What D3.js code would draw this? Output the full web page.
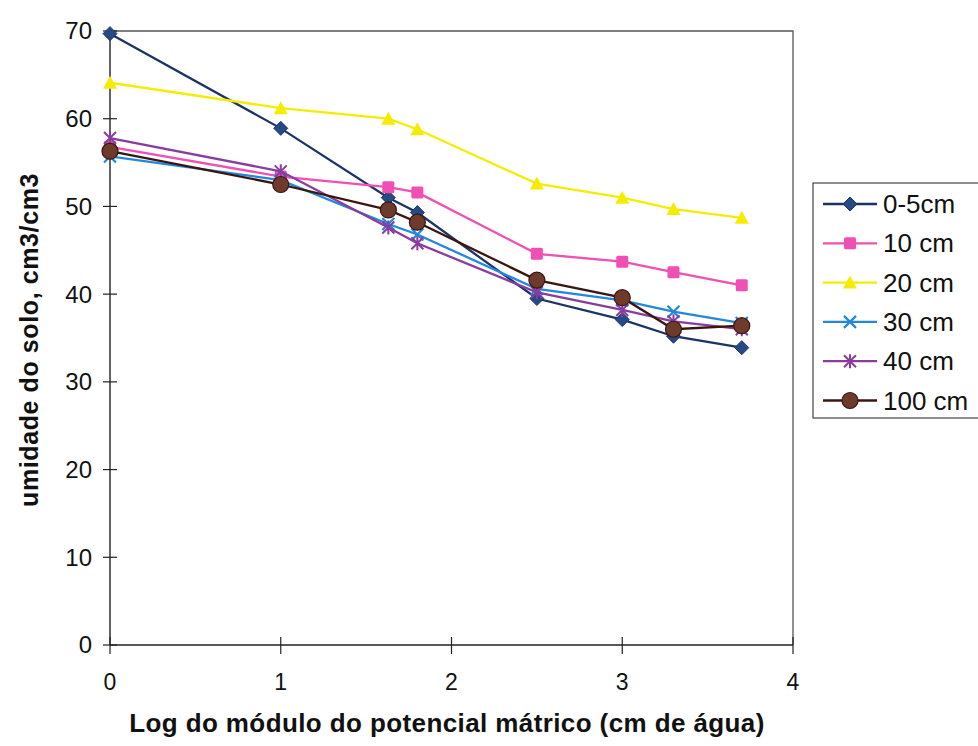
<!DOCTYPE html>
<html>
<head>
<meta charset="utf-8">
<script src="https://cdn.jsdelivr.net/npm/d3@7"></script>
<style>
  body { margin: 0; background: #fff; }
  text { font-family: Arial, "Liberation Sans", sans-serif; fill: #111; }
</style>
</head>
<body>
<svg width="978" height="746"></svg>
<script>
(function(d3) {
    'use strict';

    // log of |matric potential| (cm water)
    const logPot = [0, 1, 1.63, 1.8, 2.5, 3.0, 3.3, 3.7];

    const seriesNames = ['0-5cm', '10 cm', '20 cm', '30 cm', '40 cm', '100 cm'];
    const depth0_5 = [69.7, 58.9, 51.0, 49.3, 39.5, 37.1, 35.2, 33.9];
    const depth10  = [56.8, 53.4, 52.2, 51.6, 44.6, 43.7, 42.5, 41.0];
    const depth20  = [64.1, 61.2, 60.0, 58.8, 52.6, 51.0, 49.7, 48.7];
    const depth30  = [55.7, 53.0, 48.0, 46.8, 40.6, 39.3, 38.0, 36.7];
    const depth40  = [57.8, 54.0, 47.6, 45.8, 40.2, 38.2, 36.9, 36.0];
    const depth100 = [56.3, 52.5, 49.6, 48.2, 41.6, 39.6, 36.0, 36.4];

    const yTicks = [0, 10, 20, 30, 40, 50, 60, 70];
    const xTicks = [0, 1, 2, 3, 4];

    const styles = [
        { line: '#1b3466', fill: '#254a86', shape: 'diamond' },
        { line: '#f050b4', fill: '#f050b4', shape: 'square' },
        { line: '#f6ec00', fill: '#f6ec00', shape: 'triangle' },
        { line: '#2288dc', fill: '#2288dc', shape: 'x' },
        { line: '#8a3c9e', fill: '#8a3c9e', shape: 'star' },
        { line: '#3a1610', fill: '#6e3a2c', shape: 'circle' }
    ];

    const allSeries = [depth0_5, depth10, depth20, depth30, depth40, depth100]
        .map((vals, i) => ({ name: seriesNames[i], values: vals, style: styles[i] }));

    const svg = d3.select('svg');
    const left = 110, right = 793, top = 31, bottom = 645;

    const x = d3.scaleLinear().domain([0, 4]).range([left, right]);
    const y = d3.scaleLinear().domain([0, 70]).range([bottom, top]);

    // plot area frame (top + right)
    svg.append('path')
        .attr('d', `M${left},${top}H${right}V${bottom}`)
        .attr('fill', 'none')
        .attr('stroke', '#555')
        .attr('stroke-width', 1.3);

    // y axis with cross ticks
    const yAxisG = svg.append('g').attr('transform', `translate(${left},0)`);
    yAxisG.append('line')
        .attr('y1', top).attr('y2', bottom)
        .attr('stroke', '#222').attr('stroke-width', 1.4);
    yAxisG.selectAll('.tick').data(yTicks).enter().append('line')
        .attr('x1', -7).attr('x2', 7)
        .attr('y1', d => y(d)).attr('y2', d => y(d))
        .attr('stroke', '#222').attr('stroke-width', 1.2);
    yAxisG.selectAll('.lbl').data(yTicks).enter().append('text')
        .attr('x', -18).attr('y', d => y(d))
        .attr('dy', '0.35em')
        .attr('text-anchor', 'end')
        .style('font-size', '24px')
        .text(d => d);

    // x axis with cross ticks
    const xAxisG = svg.append('g').attr('transform', `translate(0,${bottom})`);
    xAxisG.append('line')
        .attr('x1', left).attr('x2', right)
        .attr('stroke', '#222').attr('stroke-width', 1.4);
    xAxisG.selectAll('.tick').data(xTicks).enter().append('line')
        .attr('x1', d => x(d)).attr('x2', d => x(d))
        .attr('y1', -8).attr('y2', 9)
        .attr('stroke', '#222').attr('stroke-width', 1.2);
    xAxisG.selectAll('.lbl').data(xTicks).enter().append('text')
        .attr('x', d => x(d)).attr('y', 45)
        .attr('text-anchor', 'middle')
        .style('font-size', '23px')
        .text(d => d);

    // axis titles
    svg.append('text')
        .attr('x', 447).attr('y', 732)
        .attr('text-anchor', 'middle')
        .style('font-size', '26px')
        .style('font-weight', 'bold')
        .style('letter-spacing', '0.4px')
        .text('Log do módulo do potencial mátrico (cm de água)');

    svg.append('text')
        .attr('transform', 'translate(38,340) rotate(-90)')
        .attr('text-anchor', 'middle')
        .style('font-size', '25px')
        .style('font-weight', 'bold')
        .style('letter-spacing', '0.6px')
        .text('umidade do solo, cm3/cm3');

    // marker drawing
    const drawMarker = (sel, style, size) => {
        const s = size;
        if (style.shape === 'diamond') {
            sel.append('path')
                .attr('d', `M0,${-s}L${s},0L0,${s}L${-s},0Z`)
                .attr('fill', style.fill).attr('stroke', style.line).attr('stroke-width', 1);
        } else if (style.shape === 'square') {
            sel.append('rect')
                .attr('x', -s + 1).attr('y', -s + 1)
                .attr('width', 2 * s - 2).attr('height', 2 * s - 2)
                .attr('rx', 1.5)
                .attr('fill', style.fill);
        } else if (style.shape === 'triangle') {
            sel.append('path')
                .attr('d', `M0,${-s}L${s},${s - 1}L${-s},${s - 1}Z`)
                .attr('fill', style.fill);
        } else if (style.shape === 'x') {
            const k = s - 1;
            sel.append('path')
                .attr('d', `M${-k},${-k}L${k},${k}M${-k},${k}L${k},${-k}`)
                .attr('stroke', style.line).attr('stroke-width', 2.2).attr('fill', 'none');
        } else if (style.shape === 'star') {
            const k = s - 1;
            sel.append('path')
                .attr('d', `M${-k},${-k}L${k},${k}M${-k},${k}L${k},${-k}M0,${-s}L0,${s}`)
                .attr('stroke', style.line).attr('stroke-width', 2).attr('fill', 'none');
        } else {
            sel.append('circle')
                .attr('r', s)
                .attr('fill', style.fill).attr('stroke', style.line).attr('stroke-width', 1.2);
        }
    };

    const lineGen = d3.line()
        .x((d, i) => x(logPot[i]))
        .y(d => y(d));

    allSeries.forEach(series => {
        const g = svg.append('g');
        g.append('path')
            .datum(series.values)
            .attr('d', lineGen)
            .attr('fill', 'none')
            .attr('stroke', series.style.line)
            .attr('stroke-width', 2.3);
        g.selectAll('.mk').data(series.values).enter().append('g')
            .attr('transform', (d, i) => `translate(${x(logPot[i])},${y(d)})`)
            .each(function() {
                drawMarker(d3.select(this), series.style, series.style.shape === 'circle' ? 8 : 7);
            });
    });

    // legend
    const legend = svg.append('g').attr('transform', 'translate(813,183)');
    legend.append('rect')
        .attr('width', 175).attr('height', 235)
        .attr('fill', '#fff')
        .attr('stroke', '#444').attr('stroke-width', 1.2);

    const rows = legend.selectAll('.row').data(allSeries).enter().append('g')
        .attr('transform', (d, i) => `translate(0,${21 + i * 39.3})`);
    rows.append('line')
        .attr('x1', 10).attr('x2', 64)
        .attr('stroke', d => d.style.line).attr('stroke-width', 2.3);
    rows.append('g')
        .attr('transform', 'translate(37,0)')
        .each(function(d) {
            drawMarker(d3.select(this), d.style, d.style.shape === 'circle' ? 8 : 7);
        });
    rows.append('text')
        .attr('x', 70).attr('dy', '0.35em')
        .style('font-size', '26px')
        .text(d => d.name);

}(d3));
</script>
</body>
</html>
